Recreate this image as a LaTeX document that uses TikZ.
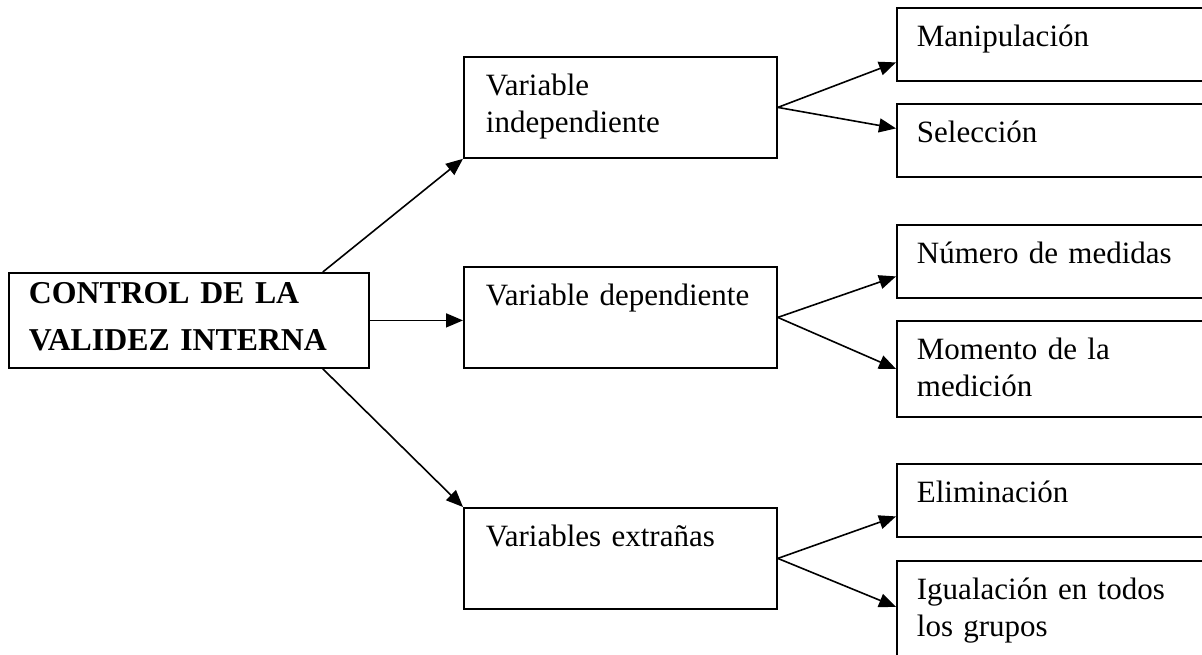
\documentclass[tikz,border=0pt]{standalone}
\usepackage{fontspec}
\setmainfont{Liberation Serif}
\usetikzlibrary{arrows.meta}

\begin{document}
\begin{tikzpicture}[x=0.5pt, y=-0.5pt,
    caja/.style={draw, line width=0.9pt, anchor=north west, align=left, inner xsep=10pt, inner ysep=0pt, text height=19.5pt, font=\fontsize{15.5}{18.5}\selectfont},
    raiz/.style={caja, text width=160pt, text height=15.5pt, text depth=32pt, font=\fontsize{15.9}{23.5}\selectfont\bfseries},
    medio/.style={caja, inner xsep=11pt, text width=134.5pt, text depth=31pt},
    hoja/.style={caja, text width=145pt, text depth=17pt},
    flecha/.style={-{Triangle[length=8.5pt,width=7pt]}, line width=0.8pt}
]
    \clip (0,0) rectangle (1202,654);

    \node[raiz] (control) at (8,272) {CONTROL DE LA\\VALIDEZ INTERNA};

    \node[medio] (indep) at (463,56) {Variable\\independiente};
    \node[medio] (dep) at (463,266) {Variable dependiente};
    \node[medio] (extr) at (463,507) {Variables extrañas};

    \node[hoja] (manip) at (896,7) {Manipulación};
    \node[hoja] (sel) at (896,103) {Selección};
    \node[hoja] (num) at (896,224) {Número de medidas};
    \node[hoja, text depth=28.5pt] (mom) at (896,320) {Momento de la\\medición};
    \node[hoja] (elim) at (896,463) {Eliminación};
    \node[hoja, text depth=30.5pt] (igual) at (896,560) {Igualación en todos\\los grupos};

    % Flechas principales
    \draw[flecha] ([xshift=-23.5pt]control.north east) -- (indep.south west);
    \draw[flecha] (control.east) -- (control.east -| dep.west);
    \draw[flecha] ([xshift=-23.5pt]control.south east) -- (extr.north west);

    % Flechas secundarias
    \draw[flecha] (indep.east) -- ([yshift=-9pt]manip.west);
    \draw[flecha] (indep.east) -- ([yshift=6pt]sel.west);
    \draw[flecha] (dep.east) -- ([yshift=-7.5pt]num.west);
    \draw[flecha] (dep.east) -- (mom.west);
    \draw[flecha] (extr.east) -- ([yshift=-8pt]elim.west);
    \draw[flecha] (extr.east) -- ([yshift=2pt]igual.west);

\end{tikzpicture}
\end{document}
